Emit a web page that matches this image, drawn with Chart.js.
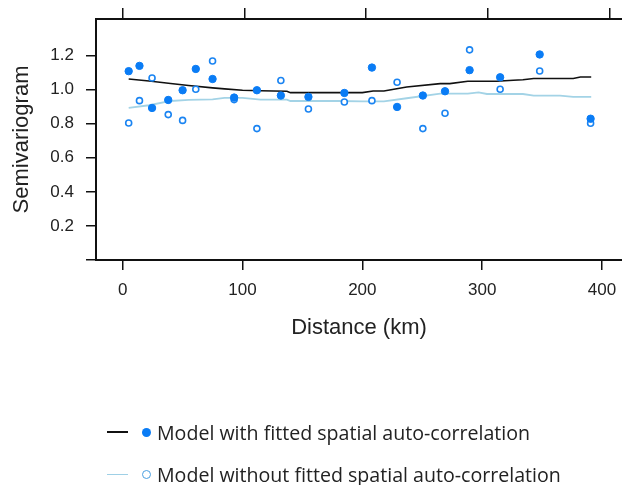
<!DOCTYPE html>
<html>
<head>
<meta charset="utf-8">
<script src="https://cdn.jsdelivr.net/npm/chart.js@4.4.0/dist/chart.umd.min.js"></script>
<style>
  html, body { margin: 0; padding: 0; background: #fff; overflow: hidden; }
  #wrap { position: relative; width: 622px; height: 485px; }
  canvas { position: absolute; left: 0; top: 0; }
  .legend { position: absolute; left: 107px; font-family: "Open Sans", "Noto Sans", sans-serif; font-size: 19.6px; color: #222; white-space: nowrap; }
  .legend .row { position: absolute; left: 0; height: 26px; display: flex; align-items: center; }
  .legend .dash { width: 21px; height: 0; margin-right: 14px; }
  .legend .mark { width: 9px; height: 9px; border-radius: 50%; box-sizing: border-box; margin-right: 6px; }
</style>
</head>
<body>
<div id="wrap">
  <canvas id="c" width="622" height="485"></canvas>
  <div class="legend">
    <div class="row" style="top:419px">
      <span class="dash" style="border-top:2px solid #111"></span>
      <span class="mark" style="background:#0a7cf5"></span>
      <span>Model with fitted spatial auto-correlation</span>
    </div>
    <div class="row" style="top:461px">
      <span class="dash" style="border-top:1.5px solid #9fd0e6"></span>
      <span class="mark" style="border:1.5px solid #4a9fe0;background:#fff"></span>
      <span>Model without fitted spatial auto-correlation</span>
    </div>
  </div>
</div>
<script>
// ---- data ----
const distanceBins = [5, 14, 24.5, 38, 50, 61, 75, 93, 112, 132, 155, 185, 208, 229, 250.5, 269, 289.5, 315, 348, 390.5];
const fittedPoints = [1.108, 1.139, 0.892, 0.939, 0.996, 1.121, 1.062, 0.953, 0.996, 0.965, 0.957, 0.980, 1.129, 0.898, 0.965, 0.990, 1.114, 1.072, 1.206, 0.829];
const unfittedPoints = [0.804, 0.935, 1.068, 0.853, 0.819, 1.002, 1.168, 0.941, 0.771, 1.053, 0.886, 0.927, 0.935, 1.043, 0.771, 0.861, 1.233, 1.002, 1.109, 0.802];

const lineDist = [5, 22, 40, 55, 75, 85, 100, 115, 137, 140, 180, 200, 209, 218, 237, 265, 273, 288, 297, 304, 312, 326, 334, 343, 365, 376, 382, 391];
const fittedLine = [1.062, 1.050, 1.036, 1.024, 1.010, 1.004, 0.996, 0.993, 0.990, 0.982, 0.982, 0.982, 0.992, 0.992, 1.015, 1.035, 1.035, 1.049, 1.049, 1.049, 1.049, 1.055, 1.058, 1.065, 1.065, 1.065, 1.074, 1.074];
const unfittedLine = [0.892, 0.908, 0.933, 0.940, 0.943, 0.951, 0.951, 0.941, 0.941, 0.933, 0.933, 0.931, 0.931, 0.931, 0.949, 0.976, 0.976, 0.976, 0.984, 0.974, 0.974, 0.974, 0.974, 0.965, 0.965, 0.957, 0.957, 0.957];

const xTicks = [0, 100, 200, 300, 400];
const yTicks = [0, 0.2, 0.4, 0.6, 0.8, 1.0, 1.2];
const yTickLabels = ['', '0.2', '0.4', '0.6', '0.8', '1.0', '1.2'];

const xTitle = 'Distance (km)';
const yTitle = 'Semivariogram';

// ---- build ----
const pairs = (xs, ys) => xs.map((x, i) => ({ x: x, y: ys[i] }));
const tickFont = { family: '"Liberation Sans", Arial, sans-serif', size: 17 };
const titleFont = { family: '"Liberation Sans", Arial, sans-serif', size: 22 };
const axisGrid = { display: true, drawOnChartArea: false, drawTicks: true, tickLength: 10, color: '#111', lineWidth: 1.5 };
const axisBorder = { display: true, color: '#111', width: 2 };
const noPad = s => { s.paddingLeft = 0; s.paddingRight = 0; };

new Chart(document.getElementById('c'), {
  type: 'scatter',
  data: {
    datasets: [
      {
        data: pairs(distanceBins, fittedPoints),
        pointStyle: 'circle', pointRadius: 3.7, borderWidth: 1,
        backgroundColor: '#0a7cf5', borderColor: '#0a7cf5', order: 0
      },
      {
        data: pairs(distanceBins, unfittedPoints),
        pointStyle: 'circle', pointRadius: 3, borderWidth: 1.6,
        backgroundColor: '#ffffff', borderColor: '#1a84f2', order: 0
      },
      {
        data: pairs(lineDist, fittedLine), showLine: true, pointRadius: 0,
        borderColor: '#111', borderWidth: 1.6, tension: 0, order: 2
      },
      {
        data: pairs(lineDist, unfittedLine), showLine: true, pointRadius: 0,
        borderColor: '#a3d3e6', borderWidth: 1.8, tension: 0, order: 2
      }
    ]
  },
  options: {
    responsive: false,
    animation: false,
    devicePixelRatio: 1,
    layout: { autoPadding: false, padding: { left: 0, right: 0, top: 8, bottom: 140 } },
    plugins: { legend: { display: false }, tooltip: { enabled: false } },
    scales: {
      x: {
        type: 'linear', position: 'bottom', min: -22.28, max: 416.7,
        afterBuildTicks: s => { s.ticks = xTicks.map(v => ({ value: v })); },
        afterFit: s => { s.height = 85; noPad(s); },
        ticks: { font: tickFont, color: '#222', padding: 10, maxRotation: 0, callback: v => String(v) },
        grid: axisGrid, border: axisBorder,
        title: { display: true, text: xTitle, font: titleFont, color: '#222', padding: { top: 0, bottom: 4 } }
      },
      x2: {
        type: 'linear', position: 'top', min: -21.95, max: 410.4,
        afterBuildTicks: s => { s.ticks = xTicks.map(v => ({ value: v })); },
        afterFit: s => { s.height = 11; noPad(s); },
        ticks: { display: false },
        grid: Object.assign({}, axisGrid, { tickLength: 11 }), border: axisBorder
      },
      y: {
        type: 'linear', position: 'left', min: 0, max: 1.414,
        afterBuildTicks: s => { s.ticks = yTicks.map(v => ({ value: v })); },
        afterFit: s => { s.width = 96; s.paddingTop = 0; s.paddingBottom = 0; },
        ticks: { font: tickFont, color: '#222', padding: 12,
                 callback: (v) => { const i = yTicks.findIndex(t => Math.abs(t - v) < 1e-9); return i >= 0 ? yTickLabels[i] : ''; } },
        grid: axisGrid, border: axisBorder,
        title: { display: true, text: yTitle, font: titleFont, color: '#222', padding: { top: 9, bottom: 0 } }
      }
    }
  }
});
</script>
</body>
</html>
